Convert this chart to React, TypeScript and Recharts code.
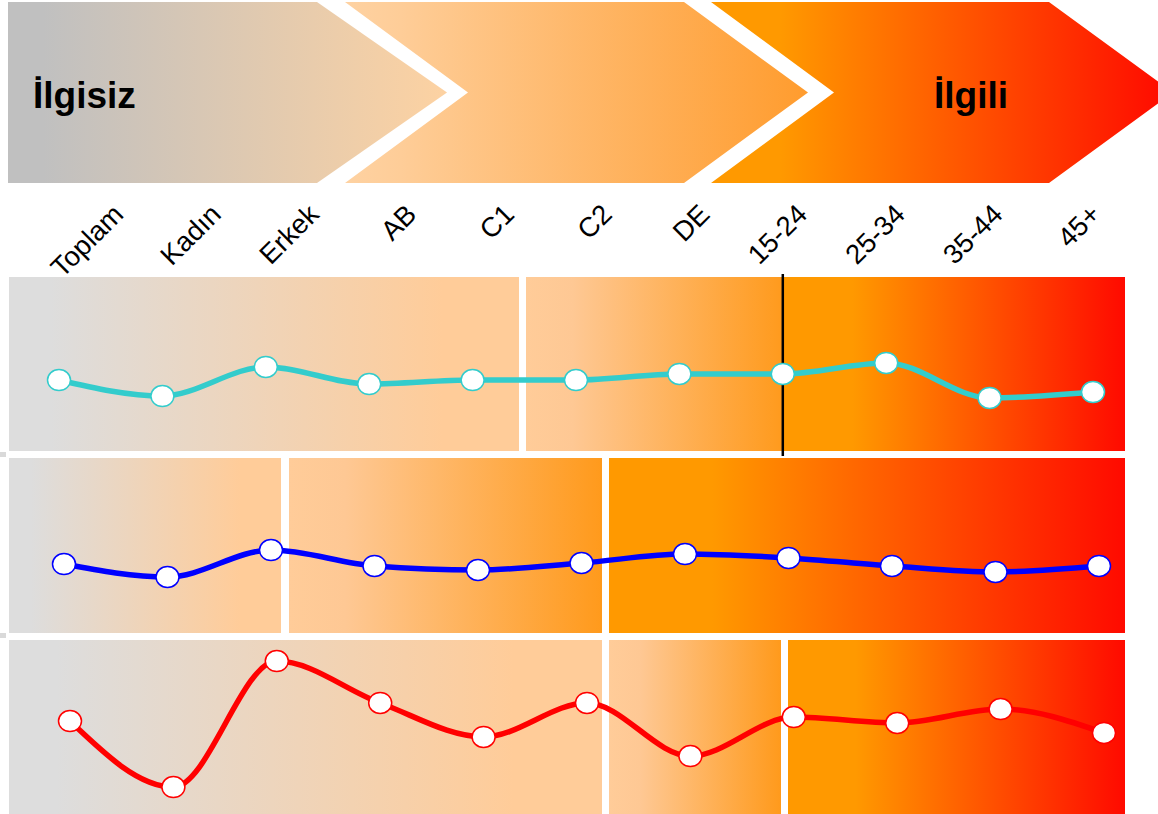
import React from 'react';
import { LineChart, Line, XAxis, YAxis, ReferenceLine } from 'recharts';

// ---- data ----
const categories = ['Toplam', 'Kadın', 'Erkek', 'AB', 'C1', 'C2', 'DE', '15-24', '25-34', '35-44', '45+'];
const tealValues = [40.8, 31.6, 48.3, 38.5, 40.8, 40.8, 44.3, 44.3, 50.6, 30.5, 33.9];
const blueValues = [39.4, 32.0, 47.4, 38.3, 36.0, 40.0, 45.1, 42.9, 38.3, 34.9, 38.3];
const redValues = [53.4, 15.5, 87.9, 63.8, 44.3, 63.8, 33.3, 55.7, 52.3, 60.3, 46.6];
const bannerLeft = 'İlgisiz';
const bannerRight = 'İlgili';
const markerCategory = '15-24';

const FONT = '"Liberation Sans", Arial, Helvetica, sans-serif';
const GRAY = '#dddddd';
const PEACH = '#ffcc99';
const ORANGE = '#ff9900';
const RED = '#ff0a00';

const headerData = categories.map((c) => ({ cat: c }));
const makeData = (vals: number[]) => categories.map((c, i) => ({ cat: c, v: vals[i] }));

const Grad = ({ id, stops }: { id: string; stops: [number, string][] }) => (
  <linearGradient id={id} x1="0" y1="0" x2="1" y2="0">
    {stops.map(([o, c], i) => (
      <stop key={i} offset={o} stopColor={c} />
    ))}
  </linearGradient>
);

const Background = () => (
  <svg width={1158} height={814} style={{ position: 'absolute', left: 0, top: 0 }}>
    <defs>
      <Grad id="bn1" stops={[[0, '#c0c0c0'], [0.08, '#c0c0c0'], [1, '#fdd2a2']]} />
      <Grad id="bn2" stops={[[0, '#fed2a2'], [0.12, '#fecd98'], [1, '#ff9c2e']]} />
      <Grad id="bn3" stops={[[0, ORANGE], [0.15, ORANGE], [1, '#ff0800']]} />
      <Grad id="gp" stops={[[0, GRAY], [0.08, GRAY], [0.85, PEACH], [1, PEACH]]} />
      <Grad id="po" stops={[[0, PEACH], [0.18, '#fec894'], [1, '#ff9a1c']]} />
      <Grad id="or" stops={[[0, ORANGE], [0.2, ORANGE], [1, RED]]} />
    </defs>
    {/* banner chevrons */}
    <polygon points="8,2 317,2 447,92.5 317,183 8,183" fill="url(#bn1)" />
    <polygon points="345,2 684,2 808,92.5 684,183 345,183 468,92.5" fill="url(#bn2)" />
    <polygon points="711,2 1049,2 1173,92.5 1049,183 711,183 834,92.5" fill="url(#bn3)" />
    <text x={33} y={108} fontFamily={FONT} fontSize={37} fontWeight="bold" fill="#000">
      {bannerLeft}
    </text>
    <text x={934} y={108} fontFamily={FONT} fontSize={37} fontWeight="bold" fill="#000">
      {bannerRight}
    </text>
    {/* panel 1 */}
    <rect x={9} y={277} width={510} height={174} fill="url(#gp)" />
    <rect x={526} y={277} width={258} height={174} fill="url(#po)" />
    <rect x={784} y={277} width={341} height={174} fill="url(#or)" />
    {/* panel 2 */}
    <rect x={9} y={458} width={272} height={175} fill="url(#gp)" />
    <rect x={289} y={458} width={313} height={175} fill="url(#po)" />
    <rect x={609} y={458} width={516} height={175} fill="url(#or)" />
    {/* panel 3 */}
    <rect x={9} y={640} width={593} height={174} fill="url(#gp)" />
    <rect x={609} y={640} width={172} height={174} fill="url(#po)" />
    <rect x={788} y={640} width={337} height={174} fill="url(#or)" />
    {/* small edge marks */}
    <rect x={0} y={452} width={6} height={5} fill="#d9d9d9" />
    <rect x={0} y={633} width={6} height={5} fill="#d9d9d9" />
  </svg>
);

const RotTick = (props: any) => {
  const { x, y, payload } = props;
  const ty = y;
  return (
    <text
      x={x}
      y={ty}
      transform={`rotate(-45 ${x} ${ty})`}
      textAnchor="end"
      fontFamily={FONT}
      fontSize={27.5}
      fill="#000"
    >
      {payload.value}
    </text>
  );
};

const makeDot = (color: string) => (p: any) => (
  <ellipse
    key={`d-${p.index}`}
    cx={p.cx}
    cy={p.cy}
    rx={11.5}
    ry={10.5}
    fill="#ffffff"
    stroke={color}
    strokeWidth={1.5}
  />
);

type PanelProps = {
  values: number[];
  color: string;
  top: number;
  height: number;
  left: number;
  right: number;
  mt: number;
  mb: number;
  refLine?: boolean;
};

const Panel = ({ values, color, top, height, left, right, mt, mb, refLine }: PanelProps) => (
  <div style={{ position: 'absolute', left: 0, top }}>
    <LineChart
      width={1158}
      height={height}
      data={makeData(values)}
      margin={{ top: mt, right, bottom: mb, left }}
    >
      <XAxis dataKey="cat" hide />
      <YAxis hide domain={[0, 100]} />
      {refLine && (
        <ReferenceLine
          segment={[
            { x: markerCategory, y: 103 },
            { x: markerCategory, y: -3 },
          ]}
          ifOverflow="visible"
          stroke="#000"
          strokeWidth={2.5}
        />
      )}
      <Line
        type="monotone"
        dataKey="v"
        stroke={color}
        strokeWidth={5.5}
        dot={makeDot(color)}
        activeDot={false}
        isAnimationActive={false}
      />
    </LineChart>
  </div>
);

export default function App() {
  return (
    <div style={{ position: 'absolute', left: 0, top: 0, width: 1158, height: 814, background: '#fff' }}>
      <Background />
      <div style={{ position: 'absolute', left: 0, top: 0 }}>
        <LineChart width={1158} height={292} data={headerData} margin={{ top: 0, right: 56, bottom: 0, left: 125 }}>
          <XAxis
            dataKey="cat"
            height={76}
            axisLine={false}
            tickLine={false}
            tickSize={0}
            tickMargin={0}
            interval={0}
            tick={<RotTick />}
          />
          <YAxis hide />
        </LineChart>
      </div>
      <Panel values={tealValues} color="#33cccc" top={274} height={182} left={59} right={65} mt={3} mb={5} refLine />
      <Panel values={blueValues} color="#0000ff" top={458} height={175} left={64} right={59} mt={0} mb={0} />
      <Panel values={redValues} color="#ff0000" top={640} height={174} left={70} right={54} mt={0} mb={0} />
    </div>
  );
}
